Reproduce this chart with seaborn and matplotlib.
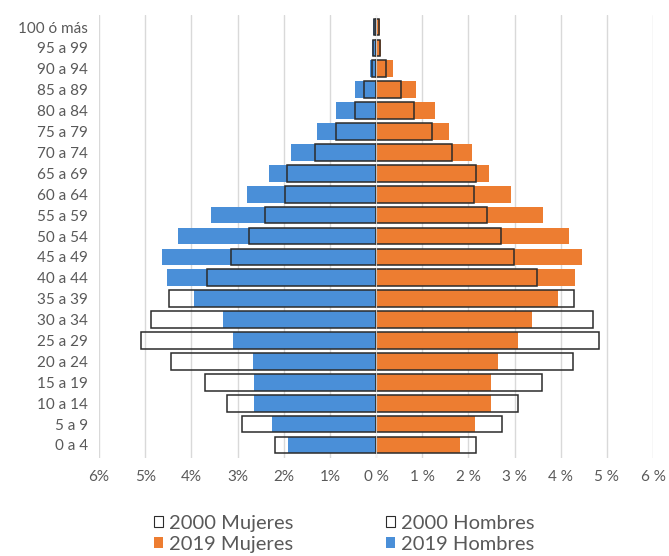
import matplotlib
matplotlib.use("Agg")
import matplotlib.pyplot as plt
from matplotlib.patches import Patch
import seaborn as sns
import pandas as pd

# age groups, top to bottom
groups = ["100 ó más", "95 a 99", "90 a 94", "85 a 89", "80 a 84", "75 a 79",
          "70 a 74", "65 a 69", "60 a 64", "55 a 59", "50 a 54", "45 a 49",
          "40 a 44", "35 a 39", "30 a 34", "25 a 29", "20 a 24", "15 a 19",
          "10 a 14", "5 a 9", "0 a 4"]

# percent of total population
hombres_2019 = [0.07, 0.08, 0.12, 0.46, 0.86, 1.28, 1.84, 2.31, 2.80, 3.57, 4.28,
                4.64, 4.52, 3.94, 3.31, 3.10, 2.66, 2.64, 2.64, 2.26, 1.91]
hombres_2000 = [0.05, 0.06, 0.09, 0.26, 0.46, 0.87, 1.33, 1.93, 1.97, 2.41, 2.75,
                3.13, 3.66, 4.48, 4.88, 5.08, 4.45, 3.71, 3.22, 2.90, 2.19]
mujeres_2019 = [0.09, 0.10, 0.36, 0.87, 1.27, 1.59, 2.09, 2.45, 2.92, 3.61, 4.19,
                4.46, 4.30, 3.94, 3.38, 3.08, 2.65, 2.50, 2.50, 2.14, 1.82]
mujeres_2000 = [0.07, 0.08, 0.22, 0.54, 0.82, 1.21, 1.65, 2.17, 2.12, 2.40, 2.70,
                2.99, 3.49, 4.29, 4.70, 4.84, 4.26, 3.59, 3.08, 2.74, 2.17]

ticks = [-6, -5, -4, -3, -2, -1, 0, 1, 2, 3, 4, 5, 6]
tick_labels = ["6%", "5%", "4%", "3%", "2%", "1%", "0 %", "1 %", "2 %", "3 %", "4 %", "5 %", "6 %"]

df = pd.DataFrame({
    "grupo": groups,
    "h2019": [-v for v in hombres_2019],
    "h2000": [-v for v in hombres_2000],
    "m2019": mujeres_2019,
    "m2000": mujeres_2000,
})

BLUE = "#4a8fd8"
ORANGE = "#ed7d31"
EDGE = "#2b2b2b"
TXT = "#595959"

sns.set_style("white")
plt.rcParams["font.family"] = ["Lato", "DejaVu Sans"]

fig = plt.figure(figsize=(6.69, 5.56), dpi=100)
ax = fig.add_axes([99 / 669, 1 - 457.5 / 556, 554 / 669, 443 / 556])

sns.barplot(data=df, x="h2019", y="grupo", order=groups, orient="h", color=BLUE,
            saturation=1, width=0.8, linewidth=0, ax=ax)
sns.barplot(data=df, x="m2019", y="grupo", order=groups, orient="h", color=ORANGE,
            saturation=1, width=0.8, linewidth=0, ax=ax)
sns.barplot(data=df, x="h2000", y="grupo", order=groups, orient="h", color=EDGE,
            fill=False, width=0.8, linewidth=1.1, ax=ax)
sns.barplot(data=df, x="m2000", y="grupo", order=groups, orient="h", color=EDGE,
            fill=False, width=0.8, linewidth=1.1, ax=ax)

ax.axvline(0, color="white", lw=0.8, alpha=0.7, zorder=3)

ax.set_xlim(-6, 6)
ax.set_ylim(20.6, -0.6)
ax.set_xticks(ticks)
ax.set_xticklabels(tick_labels)
ax.set_xlabel("")
ax.set_ylabel("")
ax.grid(axis="x", color="#d9d9d9", lw=1)
ax.set_axisbelow(True)
for s in ax.spines.values():
    s.set_visible(False)
ax.tick_params(axis="both", length=0, labelsize=11, colors=TXT)
ax.tick_params(axis="x", pad=9)
ax.tick_params(axis="y", pad=8)

handles = [
    Patch(facecolor="white", edgecolor=EDGE, lw=0.8, label="2000 Mujeres"),
    Patch(facecolor=ORANGE, edgecolor="none", label="2019 Mujeres"),
    Patch(facecolor="white", edgecolor=EDGE, lw=0.8, label="2000 Hombres"),
    Patch(facecolor=BLUE, edgecolor="none", label="2019 Hombres"),
]
leg = fig.legend(handles=handles, ncol=2, loc="center",
                 bbox_to_anchor=(344 / 669, 1 - 534 / 556), frameon=False,
                 fontsize=14.5, handlelength=0.45, handleheight=0.45,
                 handletextpad=0.3, columnspacing=4.6, labelspacing=0.2,
                 labelcolor=TXT)

fig.savefig("out.png", dpi=100)
